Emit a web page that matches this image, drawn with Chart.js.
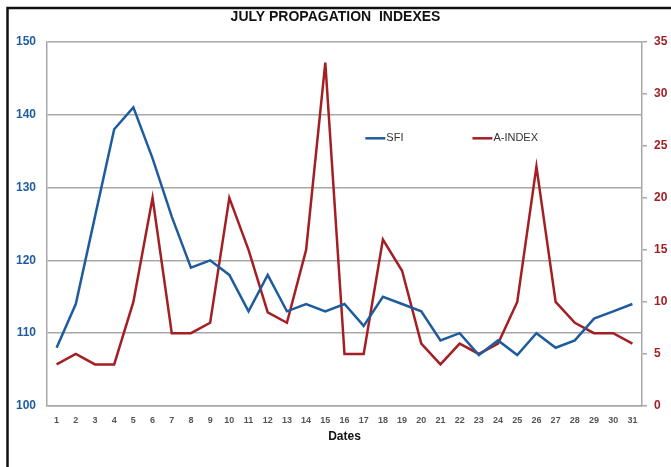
<!DOCTYPE html>
<html>
<head>
<meta charset="utf-8">
<script src="https://cdn.jsdelivr.net/npm/chart.js@4.4.0/dist/chart.umd.min.js"></script>
<style>
  html, body { margin: 0; padding: 0; background: #fff; }
  #wrap { width: 671px; height: 467px; }
</style>
</head>
<body>
<div id="wrap"><canvas id="chart" width="671" height="467"></canvas></div>
<script>
// july daily values
var days = ['1','2','3','4','5','6','7','8','9','10','11','12','13','14','15','16',
            '17','18','19','20','21','22','23','24','25','26','27','28','29','30','31'];
var sfi = [108, 114, 126, 138, 141, 134, 126, 119, 120, 118, 113, 118, 113, 114, 113, 114,
           111, 115, 114, 113, 109, 110, 107, 109, 107, 110, 108, 109, 112, 113, 114];
var aIndex = [4, 5, 4, 4, 10, 20, 7, 7, 8, 20, 15, 9, 8, 15, 33, 5,
              5, 16, 13, 6, 4, 6, 5, 6, 10, 23, 10, 8, 7, 7, 6];

var blue = '#1f5c9e';
var red = '#a31f24';
var gridGray = '#a8a8a8';
var font = "'Liberation Sans', Arial, sans-serif";

// black frame round the picture + legend inside the plot
var framePlugin = {
  id: 'frame',
  beforeDraw: function(chart) {
    var ctx = chart.ctx;
    ctx.save();
    ctx.fillStyle = '#fff';
    ctx.fillRect(0, 0, chart.width, chart.height);
    ctx.strokeStyle = '#111';
    ctx.lineWidth = 2.5;
    ctx.beginPath();
    ctx.moveTo(7.5, chart.height);
    ctx.lineTo(7.5, 8);
    ctx.lineTo(chart.width, 8);
    ctx.stroke();
    ctx.restore();
  },
  afterDraw: function(chart) {
    var ctx = chart.ctx;
    var a = chart.chartArea;
    var y = a.top + (a.bottom - a.top) * 0.265;
    var items = [
      { text: 'SFI', color: blue, x: a.left + (a.right - a.left) * 0.535 },
      { text: 'A-INDEX', color: red, x: a.left + (a.right - a.left) * 0.715 }
    ];
    ctx.save();
    ctx.font = '11px ' + font;
    ctx.textBaseline = 'middle';
    items.forEach(function(it) {
      ctx.strokeStyle = it.color;
      ctx.lineWidth = 2.5;
      ctx.beginPath();
      ctx.moveTo(it.x, y);
      ctx.lineTo(it.x + 20, y);
      ctx.stroke();
      ctx.fillStyle = '#333';
      ctx.fillText(it.text, it.x + 21, y);
    });
    ctx.restore();
  }
};

new Chart(document.getElementById('chart'), {
  type: 'line',
  data: {
    labels: days,
    datasets: [
      {
        label: 'SFI',
        data: sfi,
        yAxisID: 'y',
        borderColor: blue,
        backgroundColor: blue,
        borderWidth: 2.5,
        pointRadius: 0,
        tension: 0,
        fill: false
      },
      {
        label: 'A-INDEX',
        data: aIndex,
        yAxisID: 'y1',
        borderColor: red,
        backgroundColor: red,
        borderWidth: 2.5,
        pointRadius: 0,
        tension: 0,
        fill: false
      }
    ]
  },
  options: {
    responsive: false,
    animation: false,
    layout: { padding: { bottom: 19 } },
    plugins: {
      legend: { display: false },
      tooltip: { enabled: false },
      title: {
        display: true,
        text: 'JULY PROPAGATION  INDEXES',
        color: '#111',
        font: { family: font, size: 14, weight: 'bold' },
        padding: { top: 9, bottom: 16 }
      }
    },
    scales: {
      x: {
        offset: true,
        grid: { display: false, drawTicks: false },
        border: { display: true, color: gridGray, width: 1.5 },
        ticks: {
          color: '#555',
          font: { family: font, size: 9, weight: 'bold' },
          padding: 9,
          maxRotation: 0,
          autoSkip: false
        },
        title: {
          display: true,
          text: 'Dates',
          color: '#111',
          font: { family: font, size: 12, weight: 'bold' },
          padding: { top: 2, bottom: 4 }
        },
        afterFit: function(s) { s.height = 42; }
      },
      y: {
        position: 'left',
        min: 100,
        max: 150,
        ticks: {
          stepSize: 10,
          color: blue,
          font: { family: font, size: 12, weight: 'bold' },
          padding: 11
        },
        grid: { color: gridGray, lineWidth: 1.5, drawTicks: false },
        border: { display: true, color: gridGray, width: 1.5 },
        afterFit: function(s) { s.width = 47; }
      },
      y1: {
        position: 'right',
        min: 0,
        max: 35,
        ticks: {
          stepSize: 5,
          color: red,
          font: { family: font, size: 12, weight: 'bold' },
          padding: 7
        },
        grid: { drawOnChartArea: false, drawTicks: true, tickLength: 5, color: gridGray, lineWidth: 1.5 },
        border: { display: true, color: gridGray, width: 1.5 },
        afterFit: function(s) { s.width = 29; }
      }
    }
  },
  plugins: [framePlugin]
});
</script>
</body>
</html>
